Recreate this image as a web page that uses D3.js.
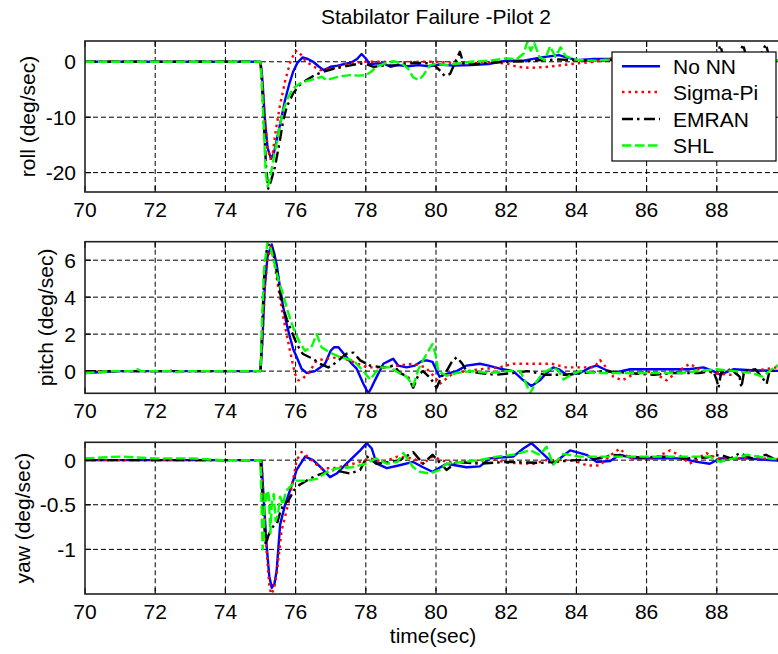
<!DOCTYPE html>
<html>
<head>
<meta charset="utf-8">
<script src="https://cdn.jsdelivr.net/npm/d3@7"></script>
<style>
  html, body { margin: 0; padding: 0; background: #fff; }
  svg { display: block; font-family: "Liberation Sans", Arial, Helvetica, sans-serif; }
</style>
</head>
<body>
<svg id="chart" width="778" height="654"></svg>
<script>
// ---------------- DATA ----------------
const chartTitle = "Stabilator Failure -Pilot 2";
const xLabel = "time(sec)";
const seriesNames = ["No NN", "Sigma-Pi", "EMRAN", "SHL"];
const xTicks = [70, 72, 74, 76, 78, 80, 82, 84, 86, 88];
const xDomain = [70, 90];

const rollTicks = [-20, -10, 0];
const pitchTicks = [0, 2, 4, 6];
const yawTicks = [-1, -0.5, 0];
const rollDomain = [-23.5, 3.75];
const pitchDomain = [-1.2, 7];
const yawDomain = [-1.5, 0.2];

// roll (deg/sec)
const rollNoNN = [[70,0],[75.0,0],[75.05,-3],[75.12,-10],[75.2,-15.5],[75.3,-17.5],[75.38,-16.5],[75.5,-13],[75.6,-10],[75.7,-6.9],[75.82,-4],[75.93,-1.8],[76.05,-0.2],[76.2,0.8],[76.35,0.5],[76.5,0],[76.65,-0.8],[76.8,-1.5],[77.0,-0.9],[77.2,-0.7],[77.4,-0.4],[77.6,-0.1],[77.75,0.5],[77.88,1.4],[78.0,0.6],[78.12,-0.5],[78.3,-0.3],[78.5,-0.3],[78.7,-0.9],[78.9,-0.6],[79.2,-0.8],[79.5,-0.6],[79.8,-0.8],[80.1,-0.5],[80.5,-0.7],[81.0,-0.6],[81.5,-0.4],[82.0,0.2],[82.5,0.2],[83.0,0.8],[83.5,1.2],[84.0,0.3],[84.5,0.5],[85.0,0.5],[85.5,0.3],[86,0.2],[87,0.1],[88,0.2],[89,0.1],[90,0.2]];
const rollSigmaPi = [[70,0],[75.0,0],[75.05,-3],[75.12,-10],[75.2,-15.5],[75.28,-17.5],[75.35,-16.5],[75.42,-13],[75.55,-8],[75.7,-3.5],[75.85,0],[75.98,1.8],[76.05,2.0],[76.15,1.3],[76.3,0],[76.5,-0.8],[76.7,-1.5],[76.9,-1.3],[77.1,-1.1],[77.3,-0.7],[77.55,-0.3],[77.8,-0.1],[78.0,0],[78.5,0],[79,-0.1],[79.5,0],[80,0],[80.5,-0.2],[81,-0.3],[81.5,-0.1],[82,-0.3],[82.3,-0.9],[82.7,-1.1],[83.2,-0.9],[83.6,-0.6],[84,-0.3],[84.5,0],[85,0.6],[85.5,0.3],[86,0],[87,0.2],[88,-0.1],[89,0.2],[90,0]];
const rollEMRAN = [[70,0],[75.0,0],[75.05,-5],[75.1,-12],[75.16,-19],[75.22,-22.9],[75.3,-21.5],[75.41,-19],[75.5,-16],[75.56,-13.9],[75.65,-10.5],[75.75,-8.1],[75.93,-5.7],[76.1,-4.3],[76.31,-3.3],[76.55,-2.4],[76.79,-1.8],[77.05,-1.3],[77.35,-0.9],[77.6,-0.6],[77.84,-0.3],[78.05,-0.5],[78.22,-0.9],[78.5,-0.7],[78.9,-0.6],[79.2,-0.3],[79.6,-0.2],[79.9,-0.3],[80.1,-1.5],[80.25,-2.6],[80.4,-2.2],[80.55,0],[80.68,1.8],[80.78,-0.3],[81,-0.5],[81.5,-0.2],[82,0],[82.5,0.1],[83,0.3],[83.5,0.4],[84,0.3],[84.5,0.2],[85,0.3],[86,0.1],[87,0.3],[87.8,0.2],[88.0,1.0],[88.1,3.0],[88.2,0.5],[88.6,0.4],[88.75,3.2],[88.85,0.5],[89.2,0.6],[89.4,3.2],[89.5,0.6],[90,0.3]];
const rollSHL = [[70,0],[75.0,0],[75.04,-4],[75.1,-13],[75.15,-20],[75.2,-22.5],[75.26,-21.5],[75.33,-19],[75.4,-16.5],[75.46,-14.7],[75.55,-11.5],[75.65,-8.7],[75.78,-6.5],[75.93,-4.8],[76.1,-4],[76.3,-3.5],[76.6,-3],[76.75,-2.7],[76.88,-3.3],[77.1,-2.9],[77.3,-2.6],[77.55,-2.4],[77.8,-2.5],[78.0,-2.4],[78.15,-1.8],[78.31,-0.9],[78.55,-0.3],[78.78,0.1],[79.0,-0.2],[79.2,-1.2],[79.35,-2.8],[79.5,-3.3],[79.63,-2.5],[79.83,-0.6],[80.0,-0.4],[80.3,-0.6],[80.6,-0.3],[81.0,0],[81.5,0.2],[82.0,0.6],[82.3,0.5],[82.5,1.5],[82.6,3.6],[82.7,2.0],[82.8,3.4],[82.95,0.8],[83.1,0.3],[83.25,2.8],[83.4,0.9],[83.55,2.6],[83.7,1.0],[83.9,0.5],[84.1,0.3],[84.5,0.2],[85,0.4],[86,0.2],[87,0.3],[88,0.2],[89,0.4],[89.7,0.3],[90,0.2]];

// pitch (deg/sec)
const pitchNoNN = [[70,-0.1],[70.5,-0.05],[71,0],[75.0,0],[75.05,1.5],[75.12,4.5],[75.2,6.2],[75.32,6.85],[75.4,6.3],[75.46,5.77],[75.55,4.6],[75.65,3.44],[75.75,2.5],[75.84,1.83],[75.93,1.2],[76.03,0.76],[76.17,0.13],[76.31,-0.1],[76.55,0],[76.7,0.2],[76.84,0.4],[77.0,1.1],[77.1,1.3],[77.22,1.29],[77.45,0.76],[77.6,0.4],[77.74,0.13],[77.93,-0.68],[78.07,-1.2],[78.16,-0.9],[78.26,-0.5],[78.5,0.4],[78.69,0.58],[78.78,0.67],[78.92,0.3],[79.16,0.2],[79.4,0.3],[79.6,0.55],[79.74,0.58],[79.9,0.5],[80.1,-0.3],[80.3,-0.15],[80.59,0],[80.87,0.3],[81.25,0.4],[81.5,0.3],[81.82,0.13],[82.2,0],[82.49,-0.5],[82.72,-0.8],[82.96,-0.5],[83.15,-0.1],[83.34,0.2],[83.5,0.1],[83.72,-0.2],[84.1,-0.1],[84.4,0.2],[84.58,0.3],[84.8,0.1],[85.05,-0.1],[85.53,0.1],[86.67,0.1],[87.2,0.1],[87.62,0.2],[87.9,0],[88.1,-0.2],[88.47,0.1],[89,0.05],[90,0]];
const pitchSigmaPi = [[70,0],[72.4,0],[72.5,0.05],[72.6,0],[75.0,0],[75.05,1.5],[75.12,4.5],[75.2,6.0],[75.3,6.7],[75.4,5.8],[75.5,4.6],[75.65,2.9],[75.84,1.1],[75.98,-0.14],[76.08,-0.5],[76.2,-0.4],[76.36,-0.14],[76.6,0.58],[76.88,0.67],[77.27,0.76],[77.65,0.49],[78.03,0.2],[78.5,0.2],[78.9,0.3],[79.35,0.4],[79.7,0.2],[80.0,-0.4],[80.1,-0.7],[80.3,-0.4],[80.5,-0.1],[81.25,0.1],[81.8,0.2],[82.2,0.4],[83.3,0.4],[83.7,0.2],[84.5,0.2],[84.67,0.6],[84.85,0.2],[85.05,-0.3],[85.3,-0.5],[85.6,-0.2],[86,0],[86.3,-0.2],[86.57,-0.5],[86.9,0],[87.23,0.4],[87.5,0.1],[87.9,-0.1],[88.38,-0.2],[89.03,0],[89.7,0.2],[90,0.1]];
const pitchEMRAN = [[70,0],[75.0,0],[75.04,2],[75.1,5],[75.18,6.6],[75.25,6.9],[75.35,6.5],[75.45,5.5],[75.55,4.3],[75.65,3.4],[75.75,2.8],[75.84,2.36],[76.03,1.47],[76.2,0.94],[76.4,0.75],[76.5,0.67],[76.69,0.4],[76.93,0.2],[77.1,0.4],[77.3,0.7],[77.45,0.94],[77.65,1.0],[77.84,0.58],[78.12,0.3],[78.5,0.2],[78.8,0.3],[78.97,-0.1],[79.2,-0.3],[79.35,-0.9],[79.5,-0.2],[79.63,0],[79.85,-0.4],[80.02,-0.9],[80.15,-0.3],[80.3,0],[80.45,0.5],[80.59,0.76],[80.75,0.4],[80.87,0],[81.25,-0.1],[81.7,-0.2],[82.2,-0.1],[82.6,0],[83.15,-0.2],[83.72,-0.2],[84.2,-0.1],[84.8,0],[85.5,-0.1],[86.2,-0.2],[86.8,-0.1],[87.5,-0.1],[87.9,0],[88.0,-0.5],[88.05,-0.9],[88.12,-0.1],[88.4,0.1],[88.65,-0.3],[88.7,-0.9],[88.78,0],[89.1,0.1],[89.35,-0.5],[89.42,-0.7],[89.5,0],[90,0.1]];
const pitchSHL = [[70,-0.1],[70.4,-0.05],[70.8,0],[71.4,0],[71.5,0.1],[71.6,0],[72.5,0],[72.6,-0.05],[72.7,0],[75.0,0],[75.04,2.5],[75.1,5.5],[75.2,6.98],[75.3,6.6],[75.4,5.8],[75.5,5.0],[75.65,4.1],[75.8,3.1],[75.93,2.36],[76.1,1.6],[76.27,1.1],[76.45,1.29],[76.6,2.0],[76.74,1.29],[76.98,1.0],[77.27,0.76],[77.65,0.58],[77.93,0],[78.12,-0.45],[78.4,0.2],[78.69,0.2],[78.95,-0.1],[79.16,-0.3],[79.35,-0.8],[79.5,0.1],[79.63,0.58],[79.9,1.47],[80.0,0.8],[80.06,0],[80.3,-0.25],[80.6,-0.1],[81,0],[81.5,-0.1],[82,0],[82.4,0],[82.55,-0.6],[82.68,-1.2],[82.85,-0.6],[83.05,-0.1],[83.34,0.2],[83.5,0],[83.63,-0.45],[83.85,-0.2],[84.1,0],[84.58,-0.1],[85,-0.1],[86,-0.1],[87,-0.1],[88,0.1],[88.5,0],[89,-0.1],[89.3,-0.3],[89.5,0],[89.7,0.3],[90,0.1]];

// yaw (deg/sec)
const yawNoNN = [[70,0],[75.0,0],[75.03,-0.02],[75.1,-0.5],[75.18,-0.98],[75.25,-1.3],[75.32,-1.43],[75.4,-1.38],[75.46,-1.24],[75.56,-0.72],[75.7,-0.5],[75.84,-0.34],[76.03,-0.11],[76.27,0.04],[76.5,0],[76.74,-0.09],[76.98,-0.19],[77.17,-0.15],[77.45,-0.04],[77.84,0.11],[78.03,0.19],[78.17,0.13],[78.31,-0.04],[78.6,-0.09],[78.93,-0.06],[79.35,-0.02],[79.63,-0.08],[79.9,-0.13],[80.3,-0.04],[80.87,-0.08],[81.25,-0.07],[81.54,0.02],[82.2,0.04],[82.49,0.13],[82.72,0.19],[83.05,0.07],[83.34,-0.04],[83.82,0.11],[84.29,0.06],[84.58,-0.02],[84.96,-0.01],[85.24,0.06],[85.62,0.02],[86.5,0.02],[86.95,0.02],[87.43,-0.02],[87.8,-0.04],[88.1,0.02],[88.85,0.02],[89.5,0],[90,-0.01]];
const yawSigmaPi = [[70,0],[75.0,0],[75.03,-0.02],[75.1,-0.55],[75.18,-1.05],[75.25,-1.4],[75.3,-1.5],[75.38,-1.45],[75.46,-1.28],[75.6,-0.79],[75.84,-0.41],[76.03,0],[76.17,0.09],[76.41,0.02],[76.7,-0.09],[77.08,-0.09],[77.45,-0.06],[77.84,-0.02],[78.12,0.02],[78.5,-0.02],[78.9,0.04],[79.35,0.02],[79.63,-0.04],[79.9,0.04],[80.3,-0.02],[81.2,-0.02],[81.54,0.02],[82.02,-0.03],[82.77,-0.04],[83.15,0],[83.9,0],[84.3,-0.06],[84.67,-0.06],[84.95,0.05],[85.24,0.13],[85.5,0.02],[86.2,0.02],[86.67,0.11],[86.95,0.05],[87.23,-0.04],[87.7,0.08],[88.0,0.02],[89,0.02],[90,0.01]];
const yawEMRAN = [[70,0],[75.0,0],[75.04,-0.3],[75.08,-0.6],[75.15,-0.95],[75.22,-0.85],[75.3,-0.78],[75.4,-0.72],[75.47,-0.71],[75.55,-0.6],[75.65,-0.5],[75.8,-0.45],[75.95,-0.34],[76.1,-0.28],[76.31,-0.23],[76.6,-0.17],[77.08,-0.11],[77.55,-0.15],[77.84,-0.11],[78.03,0.04],[78.3,-0.04],[78.7,-0.02],[78.97,0],[79.35,0.09],[79.63,-0.04],[79.9,0.06],[80.3,-0.11],[80.59,-0.02],[81.25,-0.04],[82,-0.02],[83,-0.03],[84,0],[84.5,0.01],[85.05,0.06],[85.8,0.03],[86.5,0.04],[87.2,0.02],[87.7,0.03],[88.1,0.06],[88.4,0.02],[88.66,0.08],[89,0.02],[89.4,0.06],[89.7,0],[90,0.01]];
const yawSHL = [[70,0.02],[71,0.04],[72,0.02],[73,0.02],[74,0],[75.0,0],[75.03,-0.5],[75.06,-1.0],[75.09,-0.9],[75.12,-0.38],[75.16,-0.45],[75.2,-0.34],[75.24,-0.4],[75.28,-0.82],[75.33,-0.45],[75.38,-0.38],[75.43,-0.68],[75.5,-0.6],[75.56,-0.41],[75.64,-0.5],[75.72,-0.35],[75.84,-0.3],[76.03,-0.23],[76.3,-0.23],[76.6,-0.21],[76.9,-0.13],[77.2,-0.09],[77.6,-0.08],[78.0,-0.04],[78.3,0.02],[78.6,-0.04],[78.9,-0.02],[79.07,0.08],[79.35,-0.08],[79.54,-0.13],[79.83,-0.15],[80.1,-0.11],[80.3,-0.04],[80.77,-0.02],[81.25,0],[81.73,0.04],[82.2,0.06],[82.68,0.11],[82.96,0.06],[83.15,0.15],[83.34,-0.05],[83.63,0.07],[84.1,0.04],[85,0.04],[86,0.04],[87,0.04],[87.8,0.04],[88.1,-0.02],[88.85,0.06],[89.5,0.02],[90,0]];

// ---------------- LAYOUT / STYLE ----------------
const styles = [
  { color: "#0000ff", dash: null },
  { color: "#ff0000", dash: "2.5,4" },
  { color: "#000000", dash: "11,4,2.5,4.5" },
  { color: "#00ff00", dash: "9.5,3.5" }
];
const FONT = 21;
const plotLeft = 85, plotRight = 787;

const panels = [
  { label: "roll (deg/sec)",  top: 41,    bottom: 192, domain: rollDomain,  ticks: rollTicks,  series: [rollNoNN, rollSigmaPi, rollEMRAN, rollSHL],   labelX: 27 },
  { label: "pitch (deg/sec)", top: 241.7, bottom: 393.3, domain: pitchDomain, ticks: pitchTicks, series: [pitchNoNN, pitchSigmaPi, pitchEMRAN, pitchSHL], labelX: 45 },
  { label: "yaw (deg/sec)",   top: 442.3, bottom: 594, domain: yawDomain,   ticks: yawTicks,   series: [yawNoNN, yawSigmaPi, yawEMRAN, yawSHL],       labelX: 22 }
];

const svg = d3.select("#chart");
const x = d3.scaleLinear().domain(xDomain).range([plotLeft, plotRight]);

svg.append("text")
  .attr("x", (plotLeft + plotRight) / 2).attr("y", 24)
  .attr("text-anchor", "middle").attr("font-size", FONT).attr("fill", "#000")
  .text(chartTitle);

panels.forEach((p, i) => {
  const y = d3.scaleLinear().domain(p.domain).range([p.bottom, p.top]);
  const g = svg.append("g");
  const clipId = "clip" + i;
  svg.append("clipPath").attr("id", clipId)
    .append("rect").attr("x", plotLeft).attr("y", p.top)
    .attr("width", plotRight - plotLeft).attr("height", p.bottom - p.top);

  // grid
  g.selectAll(".vg").data(xTicks.filter(t => t > xDomain[0])).enter().append("line")
    .attr("x1", d => x(d)).attr("x2", d => x(d)).attr("y1", p.top).attr("y2", p.bottom)
    .attr("stroke", "#000").attr("stroke-width", 1).attr("stroke-dasharray", "5,3");
  g.selectAll(".hg").data(p.ticks).enter().append("line")
    .attr("x1", plotLeft).attr("x2", plotRight).attr("y1", d => y(d)).attr("y2", d => y(d))
    .attr("stroke", "#000").attr("stroke-width", 1).attr("stroke-dasharray", "5,3");

  // inward ticks
  g.selectAll(".xtb").data(xTicks).enter().append("line")
    .attr("x1", d => x(d)).attr("x2", d => x(d)).attr("y1", p.bottom).attr("y2", p.bottom - 6)
    .attr("stroke", "#000").attr("stroke-width", 1.2);
  g.selectAll(".xtt").data(xTicks).enter().append("line")
    .attr("x1", d => x(d)).attr("x2", d => x(d)).attr("y1", p.top).attr("y2", p.top + 6)
    .attr("stroke", "#000").attr("stroke-width", 1.2);
  g.selectAll(".ytl").data(p.ticks).enter().append("line")
    .attr("x1", plotLeft).attr("x2", plotLeft + 6).attr("y1", d => y(d)).attr("y2", d => y(d))
    .attr("stroke", "#000").attr("stroke-width", 1.2);

  // lines
  const line = d3.line().x(d => x(d[0])).y(d => y(d[1]));
  const lg = g.append("g").attr("clip-path", `url(#${clipId})`);
  p.series.forEach((s, k) => {
    lg.append("path").datum(s)
      .attr("d", line).attr("fill", "none")
      .attr("stroke", styles[k].color).attr("stroke-width", 2.4)
      .attr("stroke-linejoin", "round")
      .attr("stroke-dasharray", styles[k].dash);
  });

  // frame
  g.append("rect").attr("x", plotLeft).attr("y", p.top)
    .attr("width", plotRight - plotLeft).attr("height", p.bottom - p.top)
    .attr("fill", "none").attr("stroke", "#222").attr("stroke-width", 1.6);

  // tick labels
  g.selectAll(".xl").data(xTicks).enter().append("text")
    .attr("x", d => x(d)).attr("y", p.bottom + 25)
    .attr("text-anchor", "middle").attr("font-size", FONT).attr("fill", "#000")
    .text(d => d);
  g.selectAll(".yl").data(p.ticks).enter().append("text")
    .attr("x", plotLeft - 9).attr("y", d => y(d)).attr("dy", "0.36em")
    .attr("text-anchor", "end").attr("font-size", FONT).attr("fill", "#000")
    .text(d => d);

  // y label
  svg.append("text")
    .attr("transform", `translate(${p.labelX},${(p.top + p.bottom) / 2}) rotate(-90)`)
    .attr("dy", "0.36em")
    .attr("text-anchor", "middle").attr("font-size", FONT).attr("fill", "#000")
    .text(p.label);

  // legend in first panel
  if (i === 0) {
    const lgd = svg.append("g");
    lgd.append("rect").attr("x", 612).attr("y", 52).attr("width", 164).attr("height", 109)
      .attr("fill", "#fff").attr("stroke", "#000").attr("stroke-width", 1.2);
    const rows = [66.3, 92, 119, 145.5];
    seriesNames.forEach((n, k) => {
      lgd.append("line").attr("x1", 622).attr("x2", 660).attr("y1", rows[k]).attr("y2", rows[k])
        .attr("stroke", styles[k].color).attr("stroke-width", 2.4)
        .attr("stroke-dasharray", styles[k].dash);
      lgd.append("text").attr("x", 673).attr("y", rows[k]).attr("dy", "0.36em")
        .attr("font-size", FONT).attr("fill", "#000").text(n);
    });
  }
});

svg.append("text")
  .attr("x", 433).attr("y", 643)
  .attr("text-anchor", "middle").attr("font-size", FONT).attr("fill", "#000")
  .text(xLabel);
</script>
</body>
</html>
